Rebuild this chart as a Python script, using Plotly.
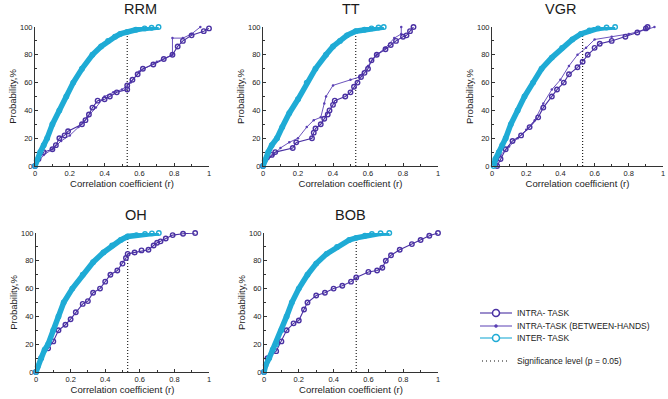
import plotly.graph_objects as go

# ---------------- data ----------------
SIG_R = 0.53  # significance level (p = 0.05)

PANEL_NAMES = ["RRM", "TT", "VGR", "OH", "BOB"]

# INTER-TASK (cyan) cumulative curves
rrm_inter_r = [0, 0.01, 0.03, 0.05, 0.07, 0.10, 0.14, 0.18, 0.22, 0.27, 0.33, 0.38, 0.42, 0.46, 0.49, 0.53, 0.58, 0.63, 0.67, 0.71]
rrm_inter_p = [0, 4, 10, 15, 20, 30, 40, 50, 60, 70, 80, 86, 90, 93, 95, 96.5, 98, 99, 99.5, 100]
tt_inter_r = [0, 0.01, 0.03, 0.05, 0.08, 0.11, 0.15, 0.20, 0.25, 0.30, 0.36, 0.40, 0.44, 0.48, 0.53, 0.58, 0.62, 0.66, 0.69]
tt_inter_p = [0, 4, 10, 15, 20, 28, 38, 48, 60, 70, 80, 86, 90, 94, 97, 98, 99, 99.6, 100]
vgr_inter_r = [0.01, 0.02, 0.04, 0.06, 0.08, 0.11, 0.15, 0.19, 0.24, 0.29, 0.35, 0.41, 0.47, 0.52, 0.57, 0.62, 0.67, 0.72]
vgr_inter_p = [0, 5, 10, 15, 20, 30, 40, 50, 60, 70, 78, 85, 91, 95, 97.5, 99, 99.6, 100]
oh_inter_r = [0, 0.01, 0.03, 0.05, 0.07, 0.10, 0.13, 0.16, 0.21, 0.27, 0.33, 0.39, 0.44, 0.49, 0.53, 0.58, 0.63, 0.67, 0.71]
oh_inter_p = [0, 4, 10, 16, 20, 30, 40, 50, 60, 70, 79, 86, 91, 95, 97.5, 98.5, 99.3, 99.7, 100]
bob_inter_r = [0, 0.01, 0.03, 0.05, 0.07, 0.10, 0.13, 0.16, 0.20, 0.25, 0.30, 0.36, 0.42, 0.49, 0.53, 0.58, 0.62, 0.67, 0.72]
bob_inter_p = [0, 5, 10, 16, 20, 30, 40, 50, 60, 70, 78, 85, 90, 95, 96.5, 98, 99.3, 99.8, 100]

# INTRA-TASK (open circles)
rrm_intra_r = [0, 0.02, 0.05, 0.10, 0.12, 0.14, 0.17, 0.19, 0.27, 0.29, 0.31, 0.33, 0.36, 0.40, 0.43, 0.47, 0.53, 0.53, 0.56, 0.59, 0.62, 0.68, 0.74, 0.79, 0.82, 0.85, 0.90, 0.97, 1.0]
rrm_intra_p = [0, 5, 10, 12, 15, 20, 22, 25, 30, 33, 37, 42, 47, 48, 50, 53, 55, 58, 62, 66, 70, 73, 77, 80, 86, 90, 94, 97, 99]
tt_intra_r = [0, 0.05, 0.07, 0.17, 0.19, 0.28, 0.29, 0.30, 0.33, 0.35, 0.37, 0.38, 0.40, 0.41, 0.47, 0.50, 0.52, 0.54, 0.56, 0.58, 0.60, 0.62, 0.65, 0.70, 0.73, 0.76, 0.80, 0.82, 0.84, 0.86]
tt_intra_p = [0, 8, 10, 13, 17, 20, 24, 27, 30, 34, 37, 40, 44, 47, 50, 53, 57, 60, 64, 67, 70, 76, 80, 84, 87, 90, 93, 94, 97, 100]
vgr_intra_r = [0.03, 0.05, 0.08, 0.12, 0.17, 0.22, 0.27, 0.30, 0.35, 0.38, 0.42, 0.45, 0.50, 0.53, 0.56, 0.60, 0.63, 0.70, 0.78, 0.85, 0.90, 0.91]
vgr_intra_p = [0, 5, 12, 18, 22, 28, 35, 42, 50, 55, 60, 66, 71, 75, 80, 85, 88, 90, 93, 96, 99, 100]
oh_intra_r = [0, 0.03, 0.07, 0.10, 0.13, 0.17, 0.20, 0.23, 0.27, 0.30, 0.33, 0.37, 0.40, 0.43, 0.47, 0.50, 0.52, 0.53, 0.57, 0.61, 0.65, 0.68, 0.70, 0.72, 0.75, 0.79, 0.85, 0.92]
oh_intra_p = [0, 10, 17, 22, 30, 34, 38, 43, 49, 51, 57, 60, 65, 70, 73, 78, 82, 85, 86, 87.5, 88, 91, 93, 94, 96, 98.5, 99.5, 100]
bob_intra_r = [0, 0.02, 0.07, 0.10, 0.13, 0.17, 0.20, 0.23, 0.25, 0.30, 0.35, 0.40, 0.45, 0.50, 0.53, 0.60, 0.65, 0.68, 0.70, 0.73, 0.78, 0.85, 0.90, 0.95, 1.0]
bob_intra_p = [0, 10, 15, 22, 30, 35, 37, 45, 50, 55, 57, 60, 62, 65, 68, 72, 73, 75, 80, 84, 88, 92, 95, 98, 100]

# INTRA-TASK (BETWEEN-HANDS) (small dots) -- only RRM, TT, VGR
rrm_bh_r = [0, 0.05, 0.10, 0.15, 0.20, 0.25, 0.30, 0.35, 0.40, 0.45, 0.50, 0.55, 0.60, 0.70, 0.79, 0.79, 0.85, 0.90, 0.95]
rrm_bh_p = [0, 8, 12, 18, 22, 28, 35, 42, 50, 53, 55, 60, 68, 75, 80, 92, 92, 95, 100]
tt_bh_r = [0, 0.03, 0.06, 0.10, 0.15, 0.20, 0.25, 0.29, 0.33, 0.35, 0.36, 0.40, 0.50, 0.55, 0.60, 0.65, 0.70, 0.75, 0.79, 0.79]
tt_bh_p = [0, 5, 8, 13, 17, 20, 28, 33, 35, 45, 50, 58, 62, 64, 72, 80, 85, 92, 95, 100]
vgr_bh_r = [0.02, 0.05, 0.10, 0.15, 0.20, 0.25, 0.30, 0.35, 0.40, 0.45, 0.50, 0.55, 0.60, 0.70, 0.80, 0.90, 0.95]
vgr_bh_p = [0, 8, 14, 20, 26, 33, 45, 55, 62, 72, 80, 85, 91, 93, 95, 98, 100]

inter = [(rrm_inter_r, rrm_inter_p), (tt_inter_r, tt_inter_p), (vgr_inter_r, vgr_inter_p),
         (oh_inter_r, oh_inter_p), (bob_inter_r, bob_inter_p)]
intra = [(rrm_intra_r, rrm_intra_p), (tt_intra_r, tt_intra_p), (vgr_intra_r, vgr_intra_p),
         (oh_intra_r, oh_intra_p), (bob_intra_r, bob_intra_p)]
between = [(rrm_bh_r, rrm_bh_p), (tt_bh_r, tt_bh_p), (vgr_bh_r, vgr_bh_p), None, None]

X_TICKS = [0, 0.2, 0.4, 0.6, 0.8, 1]
Y_TICKS = [0, 20, 40, 60, 80, 100]

LEGEND_LABELS = ["INTRA- TASK", "INTRA-TASK (BETWEEN-HANDS)", "INTER- TASK",
                 "Significance level (p = 0.05)"]

# ---------------- styling ----------------
W, H = 668, 399
PURPLE = "#4a31a3"
PURPLE2 = "#5a40b4"
CYAN = "#1fabd5"
FONT = "Liberation Sans, Arial, sans-serif"
AX = "#333"

# panel boxes in pixels: (left, right, top, bottom)
BOXES = [(35, 209, 27, 166), (263, 438, 27, 166), (492, 663, 27, 166),
         (36, 209, 233, 372), (264, 438, 233, 372)]

fig = go.Figure()
layout = dict(width=W, height=H, margin=dict(l=0, r=0, t=0, b=0, autoexpand=False),
              paper_bgcolor="white", plot_bgcolor="white", showlegend=False,
              font=dict(family=FONT, color="#222", size=7),
              annotations=[], shapes=[])

for i, name in enumerate(PANEL_NAMES):
    k = "" if i == 0 else str(i + 1)
    l, r, t, b = BOXES[i]
    xa = dict(domain=[l / W, r / W], anchor="y" + k, range=[0, 1], automargin=False,
              showline=True, linecolor=AX, linewidth=1, mirror=False,
              ticks="inside", ticklen=3, tickcolor=AX, tickwidth=1,
              tickvals=X_TICKS, showgrid=False, zeroline=False,
              tickfont=dict(size=7.5, color="#222"),
              minor=dict(ticks="inside", ticklen=2, dtick=0.1, tickcolor=AX),
              title=dict(text="Correlation coefficient (r)", font=dict(size=9.5, color="#222"), standoff=2))
    ya = dict(domain=[1 - b / H, 1 - t / H], anchor="x" + k, range=[0, 100], automargin=False,
              showline=True, linecolor=AX, linewidth=1,
              ticks="inside", ticklen=3, tickcolor=AX, tickwidth=1,
              tickvals=Y_TICKS, showgrid=False, zeroline=False,
              tickfont=dict(size=7.5, color="#222"),
              minor=dict(ticks="inside", ticklen=2, dtick=10, tickcolor=AX),
              title=dict(text="Probability,%", font=dict(size=9.5, color="#222"), standoff=1))
    layout["xaxis" + k] = xa
    layout["yaxis" + k] = ya
    layout["annotations"].append(dict(
        text=name, x=(l + r) / 2 / W, y=1 - (t - 18) / H, xref="paper", yref="paper",
        showarrow=False, font=dict(size=14.5, color="#1a1a1a"), yanchor="middle"))

    # significance line
    fig.add_trace(go.Scatter(x=[SIG_R, SIG_R], y=[0, 97], mode="lines",
                             line=dict(color="#111", width=1.1, dash="1px,2px"),
                             xaxis="x" + k, yaxis="y" + k, hoverinfo="skip"))
    # between-hands
    if between[i] is not None:
        bx, by = between[i]
        fig.add_trace(go.Scatter(x=bx, y=by, mode="lines+markers",
                                 line=dict(color=PURPLE2, width=0.9),
                                 marker=dict(symbol="circle", size=2.5, color=PURPLE2),
                                 xaxis="x" + k, yaxis="y" + k, cliponaxis=False))
    # intra-task
    ix, iy = intra[i]
    fig.add_trace(go.Scatter(x=ix, y=iy, mode="lines+markers",
                             line=dict(color=PURPLE, width=1.1),
                             marker=dict(symbol="circle-open", size=4.5, color=PURPLE, line=dict(width=1.4)),
                             xaxis="x" + k, yaxis="y" + k, cliponaxis=False))
    # inter-task: thick band (dense markers in original) + circles
    cx, cy = inter[i]
    fig.add_trace(go.Scatter(x=cx, y=cy, mode="lines",
                             line=dict(color=CYAN, width=5.5),
                             xaxis="x" + k, yaxis="y" + k, cliponaxis=False, hoverinfo="skip"))
    fig.add_trace(go.Scatter(x=cx, y=cy, mode="lines+markers",
                             line=dict(color=CYAN, width=1.1),
                             marker=dict(symbol="circle-open", size=4.5, color=CYAN, line=dict(width=1.4)),
                             xaxis="x" + k, yaxis="y" + k, cliponaxis=False))

# ---------------- legend (drawn as layout shapes + text) ----------------
LEG_ROWS = [313, 326, 338, 361]           # pixel rows
LEG_STYLE = [(PURPLE, 1.1, "solid", "ring", 7),
             (PURPLE2, 1.0, "solid", "dot", 3),
             (CYAN, 1.1, "solid", "ring", 7),
             ("#111", 1.1, "dot", None, 0)]
for row, label, (col, lw, dash, mk, ms) in zip(LEG_ROWS, LEGEND_LABELS, LEG_STYLE):
    yp = 1 - row / H
    x0, x1 = (480, 512) if dash == "solid" else (482, 509)
    layout["shapes"].append(dict(type="line", xref="paper", yref="paper",
                                 x0=x0 / W, x1=x1 / W, y0=yp, y1=yp,
                                 line=dict(color=col, width=lw, dash="1px,3px" if dash == "dot" else "solid")))
    if mk is not None:
        layout["shapes"].append(dict(type="circle", xref="paper", yref="paper",
                                     xsizemode="pixel", ysizemode="pixel",
                                     xanchor=496 / W, yanchor=yp,
                                     x0=-ms / 2, x1=ms / 2, y0=-ms / 2, y1=ms / 2,
                                     fillcolor="white" if mk == "ring" else col,
                                     line=dict(color=col, width=1.5 if mk == "ring" else 0.5)))
    layout["annotations"].append(dict(text=label, x=515 / W, y=yp, xref="paper", yref="paper",
                                      xanchor="left", yanchor="middle", showarrow=False,
                                      font=dict(size=8.5, color="#222")))

fig.update_layout(**layout)
fig.write_html("out.html", config={"displayModeBar": False},
               post_script="document.body.style.margin='0';document.body.style.overflow='hidden';")
